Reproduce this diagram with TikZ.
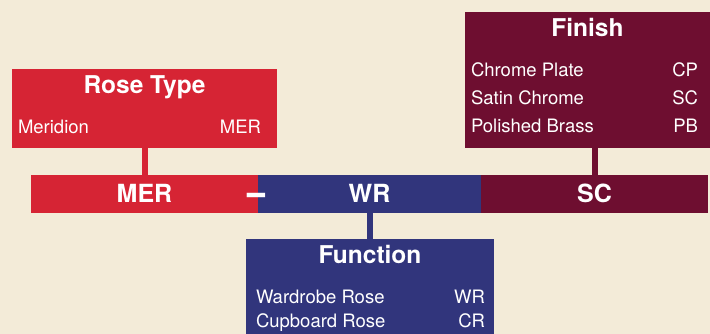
\documentclass[tikz,border=0pt]{standalone}
\usepackage{fontspec}
\setmainfont{TeX Gyre Heros}
\usetikzlibrary{positioning}
\definecolor{bgcream}{RGB}{243,235,216}
\definecolor{rosered}{RGB}{214,36,52}
\definecolor{funcblue}{RGB}{49,53,124}
\definecolor{finishred}{RGB}{110,14,48}

\begin{document}
\begin{tikzpicture}[x=1pt,y=-1pt,inner sep=0pt,outer sep=0pt,
    panel/.style={rectangle,draw=none},
    bar/.style={rectangle,draw=none,minimum height=38pt,text=white,font=\fontsize{25}{25}\selectfont\bfseries,text height=18pt,text depth=0pt},
    head/.style={text=white,font=\fontsize{24.5}{24.5}\selectfont\bfseries,text height=17pt,text depth=0pt},
    entry/.style={text=white,anchor=west,font=\fontsize{18.5}{18.5}\selectfont,text height=13pt,text depth=0pt},
    code/.style={entry,anchor=east},
    sepmark/.style={text=white,font=\fontsize{25}{25}\selectfont\bfseries,xscale=1.3,yscale=1.7},
    link/.style={line width=6pt}]
                \path[use as bounding box,fill=bgcream] (0,0) rectangle (710,334);

                \node[panel,fill=rosered,minimum width=265pt,minimum height=79pt] (rose) at (144.5,108.5) {};
                \node[panel,fill=finishred,minimum width=245pt,minimum height=136pt] (finish) at (587.5,80) {};
                \node[panel,fill=funcblue,minimum width=248pt,minimum height=100pt] (function) at (370,289) {};

                \node[bar,fill=rosered,minimum width=227pt] (mer) at (144.5,194) {MER};
                \node[bar,fill=funcblue,minimum width=223pt,right=0pt of mer] (wr) {WR};
                \node[bar,fill=finishred,minimum width=227pt,right=0pt of wr] (sc) {SC};
                \node[sepmark] (sep) at (257,200) {–};

                \draw[link,rosered] (rose.south) -- (rose.south |- mer.north);
                \draw[link,finishred] (sc.north) -- (sc.north |- finish.south);
                \draw[link,funcblue] (wr.south) -- (wr.south |- function.north);

                \node[head] (rosehead) at (144.5,85) {Rose Type};
                \node[entry] (meridion) at (18,127) {Meridion};
                \node[code] (meridioncode) at (261,127) {MER};

                \node[head] (finishhead) at (587.5,28) {Finish};
                \node[entry] (chrome) at (471,70) {Chrome Plate};
                \node[code] (chromecode) at (698,70) {CP};
                \node[entry] (satin) at (471,98) {Satin Chrome};
                \node[code] (satincode) at (698,98) {SC};
                \node[entry] (brass) at (471,126) {Polished Brass};
                \node[code] (brasscode) at (698,126) {PB};

                \node[head] (functionhead) at (370,255) {Function};
                \node[entry] (wardrobe) at (256,297) {Wardrobe Rose};
                \node[code] (wardrobecode) at (485,297) {WR};
                \node[entry] (cupboard) at (256,321) {Cupboard Rose};
                \node[code] (cupboardcode) at (485,321) {CR};
            \end{tikzpicture}
\end{document}
